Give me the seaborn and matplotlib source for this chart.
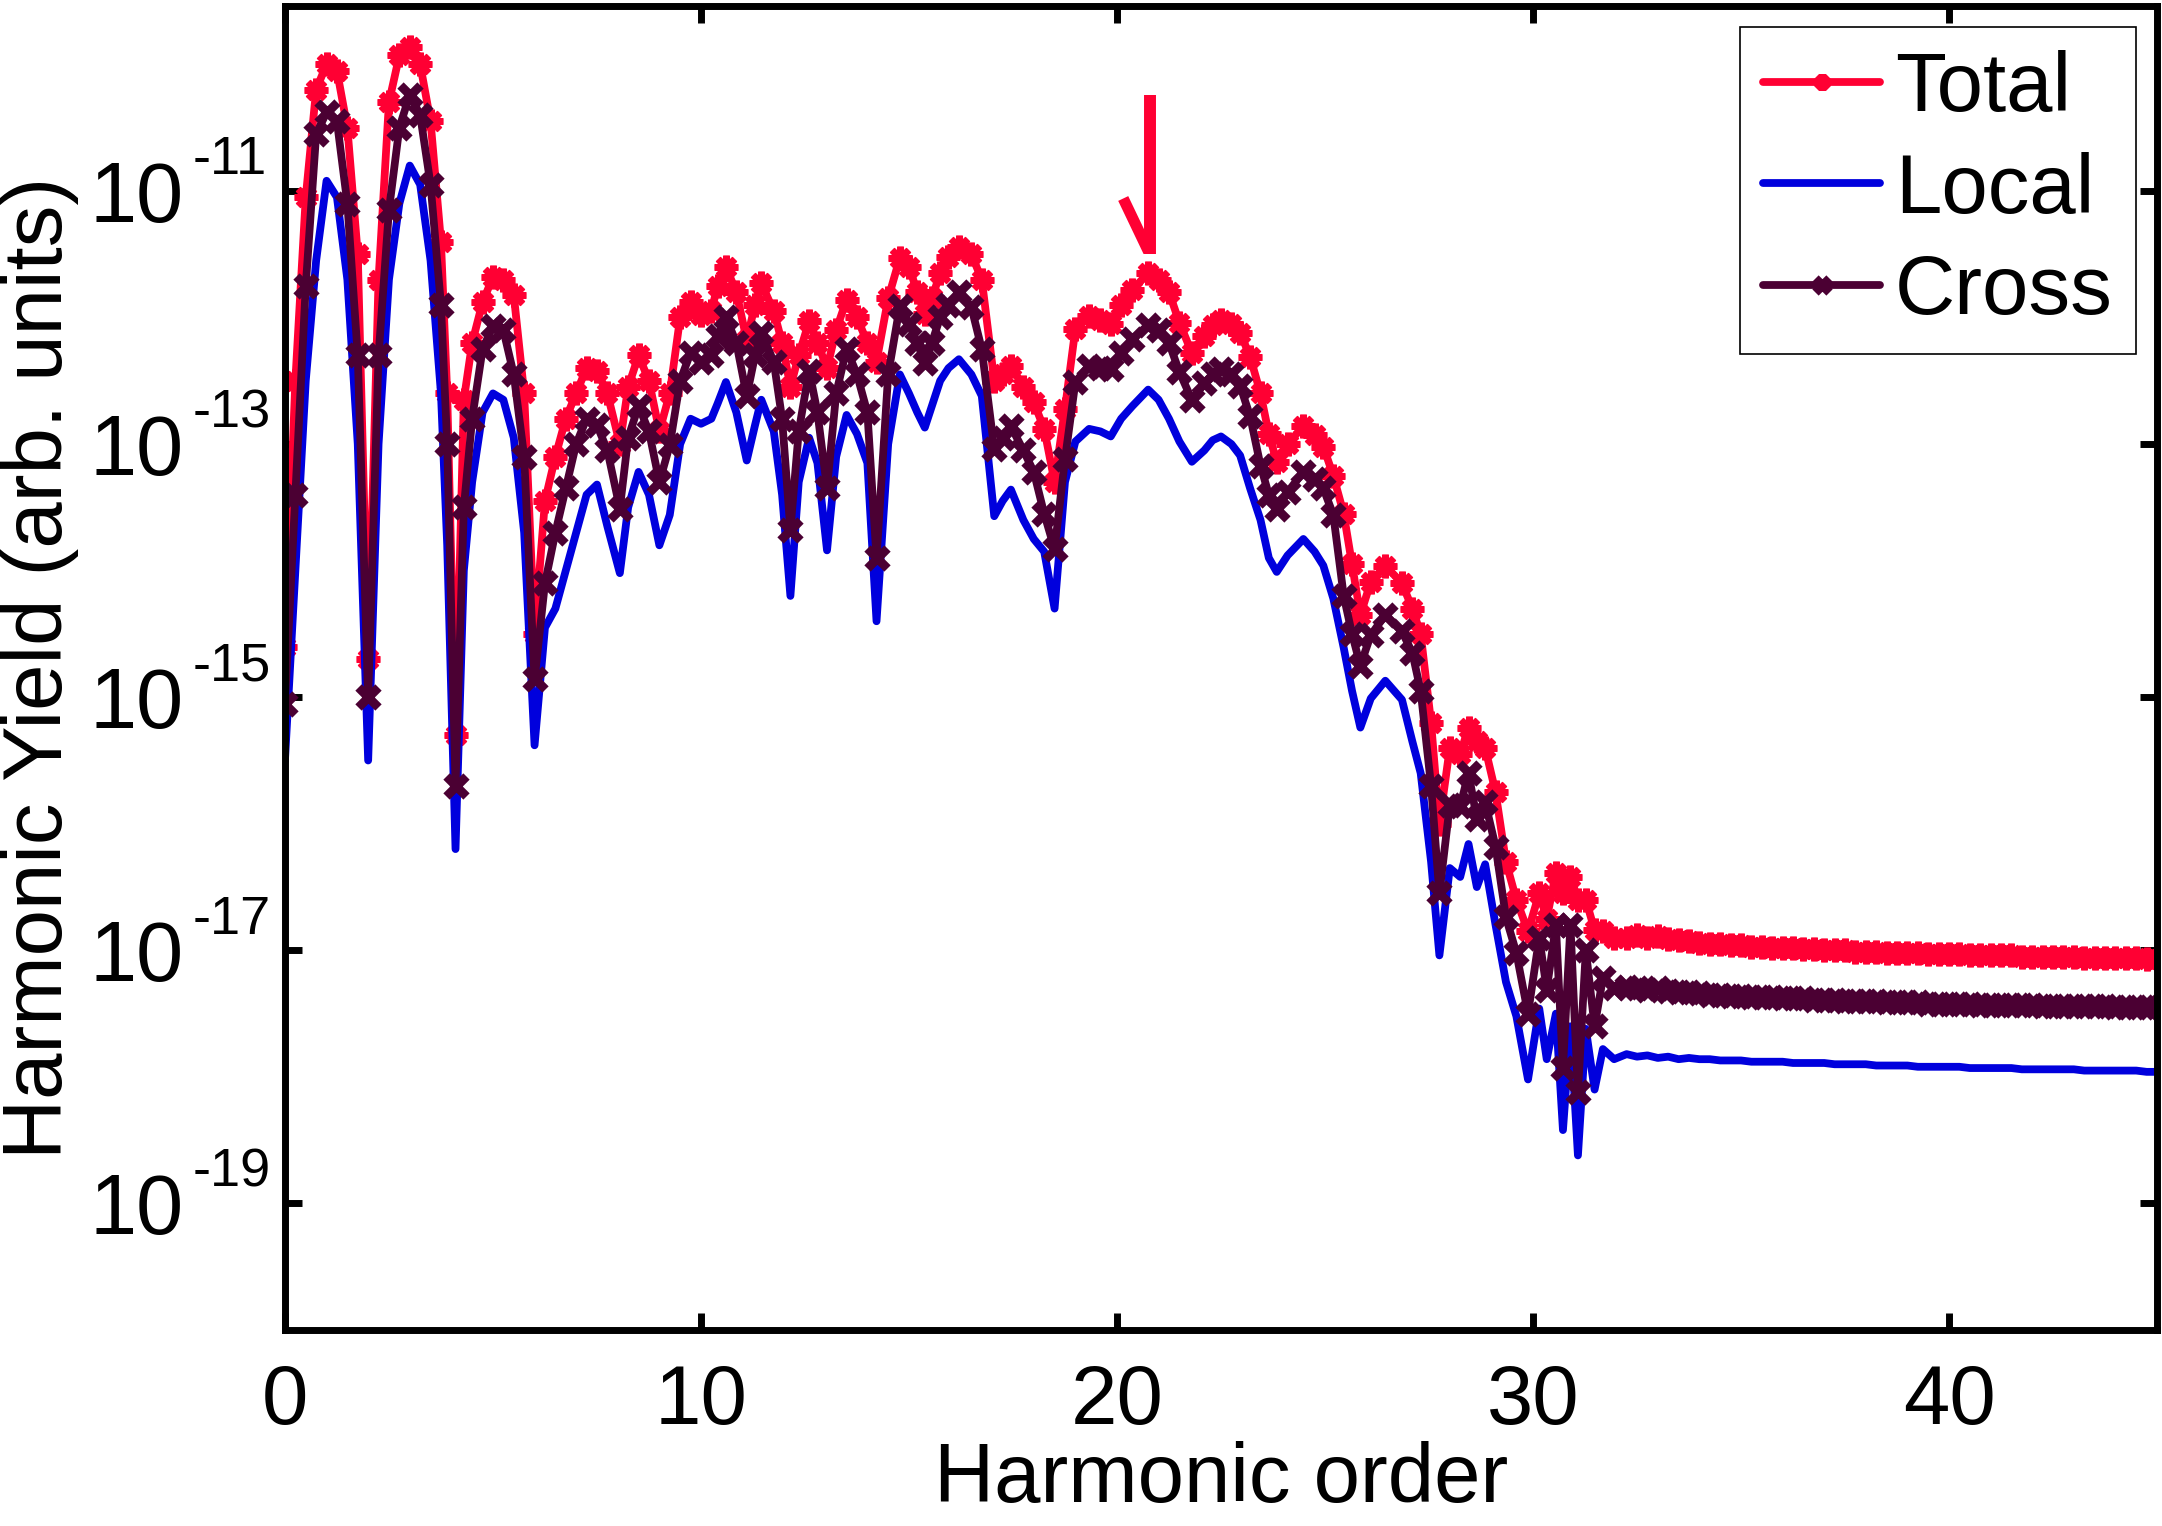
#!/usr/bin/env python
# ------------------------------------------------------
# Harmonic yield spectrum: Total / Local / Cross
# - Creates "out.png"
# ------------------------------------------------------
import numpy as np
import pandas as pd
import matplotlib
matplotlib.use("Agg")
import matplotlib.pyplot as plt
import matplotlib.transforms as mtransforms
from matplotlib.ticker import FixedLocator, NullLocator, NullFormatter
import seaborn as sns

# ---- values (log10 of the yield) ----
X_MAIN = [0.0, 0.25, 0.5, 0.75, 1.0, 1.25, 1.5, 1.75, 2.0, 2.25,
          2.5, 2.75, 3.0, 3.25, 3.5, 3.75, 3.9, 4.1, 4.3, 4.5,
          4.75, 5.0, 5.25, 5.5, 5.75, 6.0, 6.25, 6.5, 6.75, 7.0,
          7.25, 7.5, 7.75, 8.05, 8.25, 8.5, 8.75, 9.0, 9.25, 9.5,
          9.75, 10.0, 10.25, 10.4, 10.6, 10.85, 11.1, 11.3, 11.45, 11.75,
          11.95, 12.15, 12.35, 12.6, 12.8, 13.03, 13.25, 13.5, 13.75, 14.0,
          14.22, 14.5, 14.78, 15.0, 15.2, 15.38, 15.55, 15.75, 15.95, 16.2,
          16.5, 16.75, 17.05, 17.25, 17.45, 17.75, 18.0, 18.25, 18.5, 18.75,
          19.0, 19.33, 19.6, 19.85, 20.1, 20.37, 20.75, 21.0, 21.25, 21.5,
          21.8, 22.1, 22.3, 22.5, 22.75, 22.96, 23.2, 23.45, 23.65, 23.84,
          24.1, 24.48, 24.75, 24.96, 25.2, 25.45, 25.65, 25.85, 26.1, 26.45,
          26.85, 27.1, 27.3, 27.55, 27.75, 28.0, 28.25, 28.45, 28.65, 28.85,
          29.1, 29.35, 29.6, 29.88, 30.15, 30.33, 30.55, 30.72, 30.9, 31.08,
          31.27, 31.48, 31.68, 31.95]

LOG_TOTAL = [-14.6, -12.5, -11.05, -10.2, -10.0, -10.05, -10.5, -11.5, -14.7, -11.7,
             -10.3, -9.93, -9.86, -10.0, -10.45, -11.4, -12.6, -15.3, -12.65, -12.2,
             -11.88, -11.68, -11.7, -11.82, -12.6, -14.5, -13.45, -13.1, -12.8, -12.6,
             -12.4, -12.42, -12.6, -13.0, -12.55, -12.3, -12.5, -12.9, -12.6, -12.0,
             -11.88, -11.98, -11.95, -11.75, -11.6, -11.8, -12.18, -11.9, -11.73, -11.95,
             -12.2, -12.55, -12.3, -12.03, -12.2, -12.4, -12.1, -11.86, -12.0, -12.2,
             -12.35, -11.85, -11.53, -11.6, -11.8, -11.97, -11.85, -11.65, -11.52, -11.44,
             -11.5, -11.7, -12.5, -12.45, -12.38, -12.55, -12.67, -12.88, -13.3, -12.72,
             -12.09, -11.99, -12.02, -12.05, -11.9, -11.78, -11.65, -11.7, -11.8, -12.04,
             -12.28, -12.15, -12.06, -12.02, -12.05, -12.12, -12.31, -12.6, -12.92, -13.14,
             -13.0, -12.86, -12.93, -13.02, -13.25, -13.55, -13.95, -14.35, -14.09, -13.96,
             -14.1, -14.3, -14.5, -15.2, -16.0, -15.4, -15.45, -15.24, -15.35, -15.4,
             -15.75, -16.3, -16.6, -16.85, -16.55, -16.75, -16.39, -16.55, -16.42, -16.6,
             -16.6, -16.84, -16.85, -16.9]

LOG_CROSS = [-15.05, -13.4, -11.75, -10.55, -10.38, -10.45, -11.1, -12.3, -15.0, -12.3,
             -11.15, -10.5, -10.24, -10.4, -10.95, -11.9, -13.0, -15.7, -13.5, -12.8,
             -12.25, -12.07, -12.1, -12.45, -13.1, -14.86, -14.1, -13.7, -13.35, -13.0,
             -12.8, -12.85, -13.05, -13.51, -12.95, -12.7, -12.9, -13.3, -13.01, -12.5,
             -12.28, -12.35, -12.3, -12.15, -12.0, -12.2, -12.62, -12.3, -12.12, -12.35,
             -12.8, -13.68, -12.9, -12.42, -12.75, -13.35, -12.6, -12.25, -12.45, -12.75,
             -13.9, -12.45, -11.91, -12.05, -12.2, -12.36, -12.2, -12.0, -11.9, -11.8,
             -11.92, -12.25, -13.04, -12.95, -12.86, -13.05, -13.22, -13.55, -13.83, -13.12,
             -12.51, -12.38, -12.4, -12.41, -12.28, -12.17, -12.06, -12.1, -12.2, -12.43,
             -12.65, -12.52, -12.45, -12.41, -12.45, -12.54, -12.78, -13.17, -13.4, -13.51,
             -13.38, -13.22, -13.28, -13.35, -13.56, -14.2, -14.5, -14.75, -14.51, -14.35,
             -14.48, -14.65, -14.95, -15.7, -16.55, -15.85, -15.86, -15.6, -15.96, -15.83,
             -16.18, -16.74, -17.02, -17.5, -16.9, -17.31, -16.8, -17.93, -16.8, -18.12,
             -17.0, -17.6, -17.22, -17.3]

LOG_LOCAL = [-15.5, -14.0, -12.5, -11.55, -10.92, -11.05, -11.7, -13.0, -15.5, -13.0,
             -11.7, -11.1, -10.8, -10.95, -11.55, -12.6, -13.8, -16.2, -14.0, -13.3,
             -12.75, -12.6, -12.65, -12.95, -13.7, -15.38, -14.45, -14.3, -14.0, -13.7,
             -13.4, -13.32, -13.65, -14.02, -13.5, -13.22, -13.4, -13.8, -13.56, -13.0,
             -12.8, -12.84, -12.8, -12.68, -12.51, -12.75, -13.13, -12.85, -12.65, -12.9,
             -13.4, -14.2, -13.3, -12.95, -13.15, -13.84, -13.1, -12.77, -12.92, -13.15,
             -14.4, -13.0, -12.45, -12.6, -12.75, -12.87, -12.7, -12.5, -12.4, -12.33,
             -12.45, -12.62, -13.57, -13.45, -13.36, -13.6, -13.75, -13.85, -14.3, -13.3,
             -12.98, -12.88, -12.9, -12.94, -12.8, -12.7, -12.57, -12.65, -12.8, -12.98,
             -13.14, -13.05, -12.97, -12.94, -13.0, -13.09, -13.35, -13.6, -13.9, -14.01,
             -13.88, -13.75, -13.85, -13.96, -14.22, -14.61, -14.95, -15.24, -15.01, -14.87,
             -15.02, -15.35, -15.6, -16.3, -17.04, -16.35, -16.42, -16.16, -16.5, -16.32,
             -16.8, -17.25, -17.52, -18.02, -17.46, -17.86, -17.5, -18.42, -17.6, -18.62,
             -17.62, -18.1, -17.78, -17.86]

# flat tail, x = 32.25 ... 45 in steps of 0.25
LOG_TOTAL_TAIL = [-16.90, -16.88, -16.90, -16.89, -16.91, -16.92, -16.93, -16.94, -16.95, -16.95,
                  -16.96, -16.96, -16.97, -16.97, -16.98, -16.98, -16.98, -16.99, -16.99, -17.00,
                  -17.00, -17.00, -17.01, -17.01, -17.01, -17.02, -17.02, -17.02, -17.02, -17.03,
                  -17.03, -17.03, -17.03, -17.04, -17.04, -17.04, -17.04, -17.04, -17.05, -17.05,
                  -17.05, -17.05, -17.05, -17.05, -17.06, -17.06, -17.06, -17.06, -17.06, -17.06,
                  -17.07, -17.07]
LOG_CROSS_TAIL = [-17.29, -17.30, -17.31, -17.30, -17.32, -17.33, -17.33, -17.34, -17.35, -17.35,
                  -17.36, -17.36, -17.37, -17.37, -17.37, -17.38, -17.38, -17.38, -17.39, -17.39,
                  -17.39, -17.40, -17.40, -17.40, -17.40, -17.41, -17.41, -17.41, -17.41, -17.42,
                  -17.42, -17.42, -17.42, -17.42, -17.43, -17.43, -17.43, -17.43, -17.43, -17.43,
                  -17.44, -17.44, -17.44, -17.44, -17.44, -17.44, -17.44, -17.45, -17.45, -17.45,
                  -17.45, -17.45]
LOG_LOCAL_TAIL = [-17.82, -17.84, -17.83, -17.85, -17.84, -17.86, -17.85, -17.86, -17.86, -17.87,
                  -17.87, -17.87, -17.88, -17.88, -17.88, -17.88, -17.89, -17.89, -17.89, -17.89,
                  -17.90, -17.90, -17.90, -17.90, -17.91, -17.91, -17.91, -17.91, -17.92, -17.92,
                  -17.92, -17.92, -17.92, -17.93, -17.93, -17.93, -17.93, -17.93, -17.94, -17.94,
                  -17.94, -17.94, -17.94, -17.94, -17.95, -17.95, -17.95, -17.95, -17.95, -17.95,
                  -17.96, -17.96]
TAIL_START, TAIL_END = 32.25, 45.0

X_TICKS = [0, 10, 20, 30, 40]
Y_TICK_EXP = [-19, -17, -15, -13, -11]

# arrow marking the harmonic near 21 (x, log10 y)
ARROW_SHAFT = ([20.8, 20.8], [-10.24, -11.5])
ARROW_HEAD = ([20.15, 20.76], [-11.06, -11.48])

RED = "#FF0033"
BLUE = "#0000DD"
MAROON = "#4B0033"


def series(x_main, log_main, log_tail):
    n = min(len(x_main), len(log_main))
    x_tail = np.linspace(TAIL_START, TAIL_END, len(log_tail))
    x = np.concatenate([np.asarray(x_main[:n]), x_tail])
    y = 10.0 ** np.concatenate([np.asarray(log_main[:n]), np.asarray(log_tail)])
    return pd.DataFrame({"order": x, "yield": y})


df_total = series(X_MAIN, LOG_TOTAL, LOG_TOTAL_TAIL)
df_local = series(X_MAIN, LOG_LOCAL, LOG_LOCAL_TAIL)
df_cross = series(X_MAIN, LOG_CROSS, LOG_CROSS_TAIL)

# ---- style ----
sns.set_theme(style="white")
plt.rcParams.update({
    "font.family": ["Liberation Sans", "DejaVu Sans"],
    "axes.edgecolor": "black",
    "axes.labelcolor": "black",
    "text.color": "black",
    "xtick.color": "black",
    "ytick.color": "black",
    "axes.linewidth": 2.5,
})

fig = plt.figure(figsize=(10.81, 7.63), dpi=200)
ax = fig.add_axes([0.1318, 0.1284, 0.8659, 0.8676])
ax.set_yscale("log")

sns.lineplot(data=df_total, x="order", y="yield", ax=ax, color=RED, lw=2.8,
             marker=(8, 2, 0), markersize=8.5, markeredgewidth=2.4,
             markeredgecolor=RED, label="Total", sort=False, estimator=None)
sns.lineplot(data=df_local, x="order", y="yield", ax=ax, color=BLUE, lw=2.8,
             label="Local", sort=False, estimator=None)
sns.lineplot(data=df_cross, x="order", y="yield", ax=ax, color=MAROON, lw=2.8,
             marker="x", markersize=7.5, markeredgewidth=3.2,
             markeredgecolor=MAROON, label="Cross", sort=False, estimator=None)

# arrow (two strokes)
ax.plot(ARROW_SHAFT[0], 10.0 ** np.array(ARROW_SHAFT[1]), color=RED, lw=4.3,
        solid_capstyle="butt")
ax.plot(ARROW_HEAD[0], 10.0 ** np.array(ARROW_HEAD[1]), color=RED, lw=4.0,
        solid_capstyle="butt")

ax.set_xlim(0, 45)
ax.set_ylim(1e-20, 10 ** -9.54)
ax.xaxis.set_major_locator(FixedLocator(X_TICKS))
ax.xaxis.set_minor_locator(NullLocator())
ax.yaxis.set_major_locator(FixedLocator([10.0 ** e for e in Y_TICK_EXP]))
ax.yaxis.set_major_formatter(NullFormatter())
ax.yaxis.set_minor_locator(NullLocator())

ax.tick_params(which="both", direction="in", top=True, right=True,
               bottom=True, left=True, length=6, width=2.5, labelsize=30)
ax.tick_params(axis="x", pad=12)

# y tick labels: big "10" with a small raised exponent
trans = mtransforms.blended_transform_factory(ax.transAxes, ax.transData)
for e in Y_TICK_EXP:
    ax.text(-0.1042, 10.0 ** e, "10", transform=trans, ha="left",
            va="center_baseline", fontsize=30.5)
    ax.annotate("-" + str(abs(e)), xy=(-0.0491, 10.0 ** e), xycoords=trans,
                xytext=(0, 13), textcoords="offset points", ha="left",
                va="center_baseline", fontsize=19.5)

ax.set_xlabel("Harmonic order", fontsize=30, labelpad=0)
ax.set_ylabel("Harmonic Yield (arb. units)", fontsize=30)
ax.yaxis.set_label_coords(-0.110, 0.5)

leg = ax.legend(loc="upper right", fontsize=30, frameon=True, fancybox=False,
                edgecolor="black", framealpha=1, borderaxespad=0.25,
                handlelength=1.4, handletextpad=0.18, labelspacing=0.28,
                borderpad=0.28, markerscale=0.7)
leg.get_frame().set_linewidth(0.6)

for s in ax.spines.values():
    s.set_linewidth(2.5)

fig.savefig("out.png", dpi=200)
plt.close()
